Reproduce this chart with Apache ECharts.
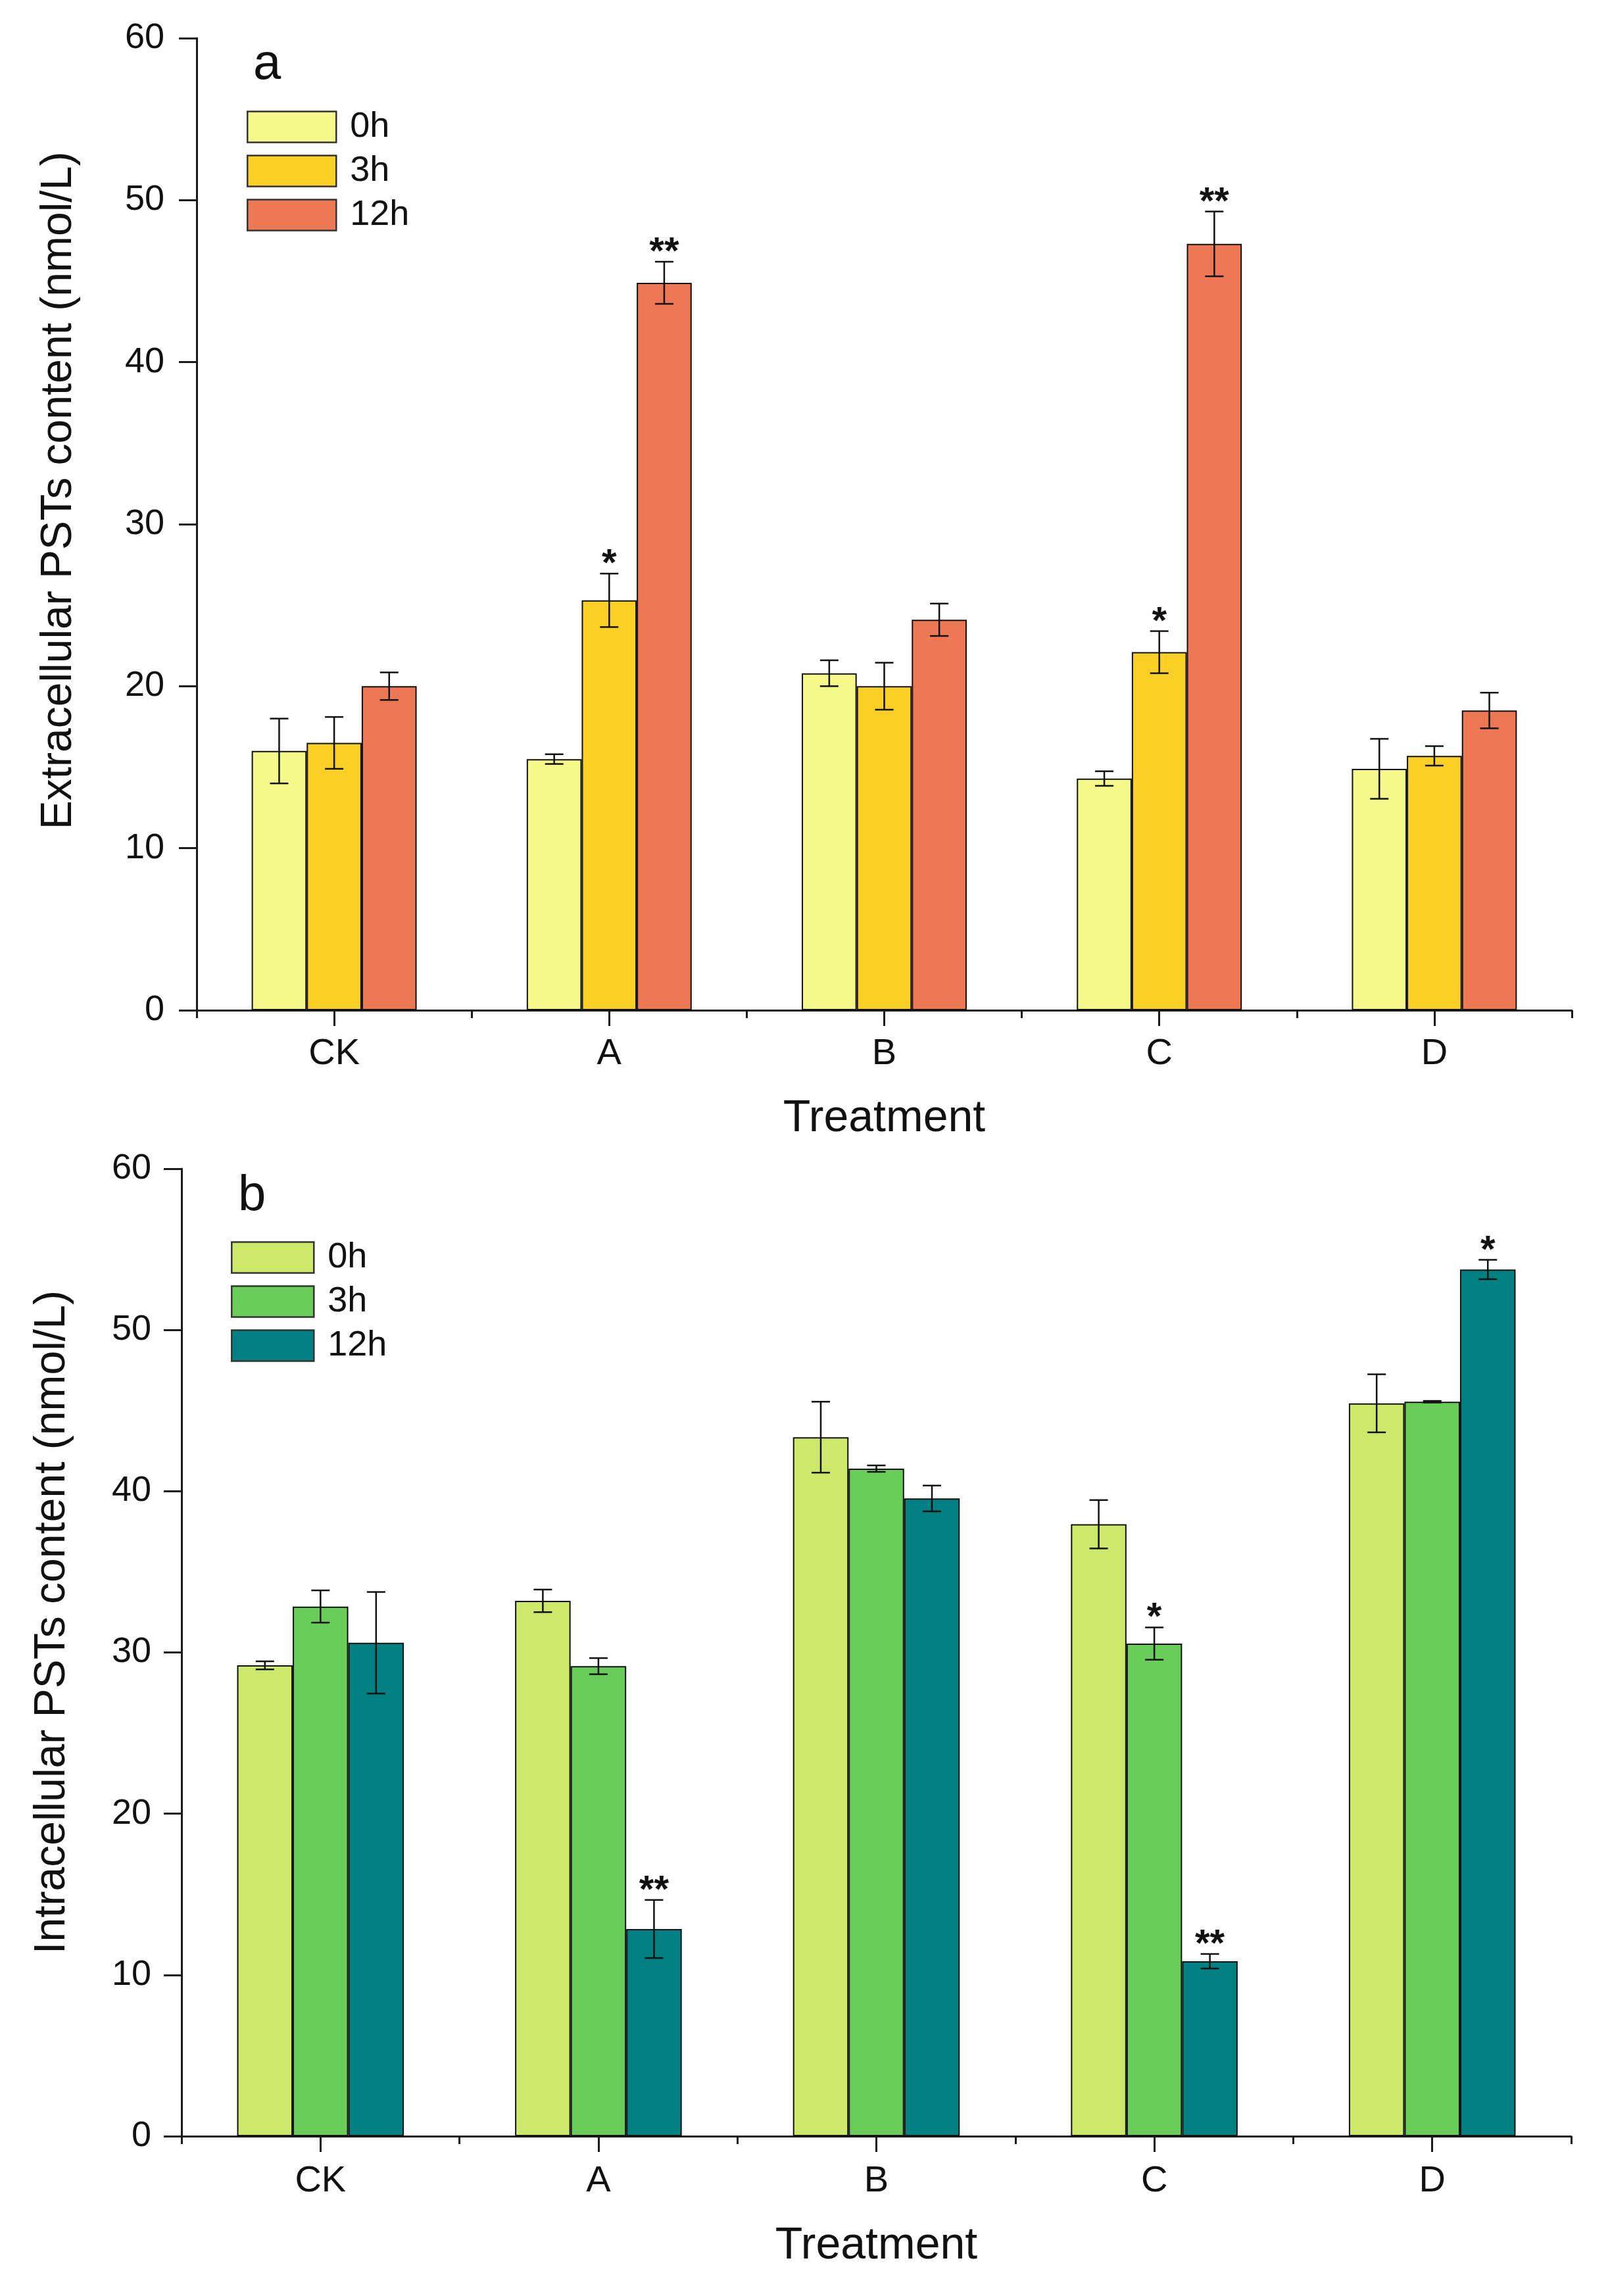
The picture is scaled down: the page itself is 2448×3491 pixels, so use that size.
<!DOCTYPE html>
<html>
<head>
<meta charset="utf-8">
<script src="https://cdn.jsdelivr.net/npm/echarts@6/dist/echarts.min.js"></script>
<style>
  html, body { margin: 0; padding: 0; background: #ffffff; }
  #chart { width: 2448px; height: 3491px; }
</style>
</head>
<body>
<div id="chart"></div>
<script>
// ---------- data ----------
const categories = ['CK', 'A', 'B', 'C', 'D'];
const timeNames = ['0h', '3h', '12h'];

// Panel a: extracellular PSTs (nmol/L)
const ext0h = [16.0, 15.5, 20.8, 14.3, 14.9];
const ext0hErr = [2.0, 0.3, 0.8, 0.45, 1.85];
const ext3h = [16.5, 25.3, 20.0, 22.1, 15.7];
const ext3hErr = [1.6, 1.65, 1.45, 1.3, 0.6];
const ext12h = [20.0, 44.9, 24.1, 47.3, 18.5];
const ext12hErr = [0.85, 1.3, 1.0, 2.0, 1.1];
const extSig0h = ['', '', '', '', ''];
const extSig3h = ['', '*', '', '*', ''];
const extSig12h = ['', '**', '', '**', ''];

// Panel b: intracellular PSTs (nmol/L)
const int0h = [29.2, 33.2, 43.35, 37.95, 45.45];
const int0hErr = [0.25, 0.7, 2.2, 1.5, 1.8];
const int3h = [32.85, 29.15, 41.4, 30.55, 45.55];
const int3hErr = [1.0, 0.5, 0.2, 1.0, 0.05];
const int12h = [30.6, 12.85, 39.55, 10.85, 53.75];
const int12hErr = [3.15, 1.8, 0.8, 0.45, 0.6];
const intSig0h = ['', '', '', '', ''];
const intSig3h = ['', '', '', '*', ''];
const intSig12h = ['', '**', '', '**', '*'];

const yTickMin = 0, yTickMax = 60, yTickStep = 10;

// ---------- styles ----------
const FONT = "'Liberation Sans', Arial, sans-serif";
const extColors = ['#F5FA8B', '#FAD026', '#EC7854'];
const intColors = ['#CCE96B', '#6BCD59', '#008080'];
const AX = '#1a1a1a';

function errSeries(values, errs, sigs, pos, xIdx, yIdx) {
  return {
    type: 'custom',
    xAxisIndex: xIdx,
    yAxisIndex: yIdx,
    z: 10,
    silent: true,
    data: values.map((v, i) => [i, v, errs[i]]),
    encode: { x: 0, y: 1 },
    renderItem: function (params, api) {
      const idx = api.value(0);
      const v = api.value(1);
      const e = api.value(2);
      const c = api.coord([idx, v]);
      const band = api.size([1, 0])[0];
      const bw = band * 0.2;
      const x = c[0] + (pos - 1) * bw;
      const yt = api.coord([idx, v + e])[1];
      const yb = api.coord([idx, v - e])[1];
      const cap = 14;
      const st = { stroke: '#111', lineWidth: 2.5 };
      const children = [
        { type: 'line', shape: { x1: x, y1: yt, x2: x, y2: yb }, style: st },
        { type: 'line', shape: { x1: x - cap, y1: yt, x2: x + cap, y2: yt }, style: st },
        { type: 'line', shape: { x1: x - cap, y1: yb, x2: x + cap, y2: yb }, style: st }
      ];
      const s = sigs[params.dataIndex];
      if (s) {
        children.push({
          type: 'text',
          style: {
            text: s, x: x, y: yt - 13,
            align: 'center', verticalAlign: 'middle',
            fontSize: 58, fontWeight: 'bold', fontFamily: FONT, fill: '#111'
          }
        });
      }
      return { type: 'group', children: children };
    }
  };
}

function barSeries(name, values, color, xIdx, yIdx) {
  return {
    name: name,
    type: 'bar',
    xAxisIndex: xIdx,
    yAxisIndex: yIdx,
    data: values,
    barWidth: '20%',
    barGap: '0%',
    itemStyle: { color: color, borderColor: '#111', borderWidth: 2 },
    emphasis: { disabled: true }
  };
}

function mainX(gridIndex, labelMargin, nameGap) {
  return {
    type: 'category', gridIndex: gridIndex, data: categories, position: 'bottom',
    axisLine: { show: true, lineStyle: { color: AX, width: 3 } },
    axisTick: { show: true, alignWithLabel: true, length: 24, lineStyle: { color: AX, width: 3 } },
    axisLabel: { margin: labelMargin, fontSize: 56, fontFamily: FONT, color: '#111' },
    name: 'Treatment', nameLocation: 'middle', nameGap: nameGap,
    nameTextStyle: { fontSize: 68, fontFamily: FONT, color: '#111' }
  };
}
function minorX(gridIndex) {
  return {
    type: 'category', gridIndex: gridIndex, data: categories, position: 'bottom',
    axisLine: { show: false },
    axisTick: { show: true, alignWithLabel: false, interval: 0, length: 12, lineStyle: { color: AX, width: 3 } },
    axisLabel: { show: false }
  };
}
function valY(gridIndex, title, labelMargin, nameGap, shift) {
  return {
    type: 'value', gridIndex: gridIndex, min: yTickMin, max: yTickMax, interval: yTickStep,
    axisLine: { show: true, lineStyle: { color: AX, width: 3 } },
    axisTick: { show: true, inside: false, length: 27, lineStyle: { color: AX, width: 3 } },
    axisLabel: { margin: labelMargin, fontSize: 54, fontFamily: FONT, color: '#111' },
    splitLine: { show: false },
    name: title, nameLocation: 'middle', nameGap: nameGap,
    nameTextStyle: { fontSize: 66, fontFamily: FONT, color: '#111', padding: [0, 0, 0, shift] }
  };
}

function legendCfg(names, left, top, w) {
  return {
    data: names, orient: 'vertical', left: left, top: top, padding: 0,
    icon: 'rect', itemWidth: w, itemHeight: 47, itemGap: 13,
    selectedMode: false,
    itemStyle: { borderColor: '#333', borderWidth: 2.5 },
    textStyle: { fontSize: 54, fontFamily: FONT, color: '#111', padding: [0, 0, 0, 16] }
  };
}

const option = {
  backgroundColor: '#ffffff',
  animation: false,
  title: [
    { text: 'a', left: 380, top: 56, textStyle: { fontSize: 76, fontWeight: 'normal', fontFamily: FONT, color: '#111' } },
    { text: 'b', left: 357, top: 1776, textStyle: { fontSize: 76, fontWeight: 'normal', fontFamily: FONT, color: '#111' } }
  ],
  legend: [
    legendCfg(timeNames, 375, 166, 135),
    legendCfg(timeNames.map(n => n + ' '), 351, 1885, 125)
  ],
  grid: [
    { left: 299, right: 58, top: 58, height: 1478, containLabel: false },
    { left: 276, right: 59, top: 1777, height: 1471, containLabel: false }
  ],
  xAxis: [mainX(0, 39, 131), minorX(0), mainX(1, 41, 133), minorX(1)],
  yAxis: [
    valY(0, 'Extracellular PSTs content (nmol/L)', 49, 176, 102),
    valY(1, 'Intracellular PSTs content (nmol/L)', 46, 163, 92)
  ],
  series: [
    barSeries('0h', ext0h, extColors[0], 0, 0),
    barSeries('3h', ext3h, extColors[1], 0, 0),
    barSeries('12h', ext12h, extColors[2], 0, 0),
    errSeries(ext0h, ext0hErr, extSig0h, 0, 0, 0),
    errSeries(ext3h, ext3hErr, extSig3h, 1, 0, 0),
    errSeries(ext12h, ext12hErr, extSig12h, 2, 0, 0),
    barSeries('0h ', int0h, intColors[0], 2, 1),
    barSeries('3h ', int3h, intColors[1], 2, 1),
    barSeries('12h ', int12h, intColors[2], 2, 1),
    errSeries(int0h, int0hErr, intSig0h, 0, 2, 1),
    errSeries(int3h, int3hErr, intSig3h, 1, 2, 1),
    errSeries(int12h, int12hErr, intSig12h, 2, 2, 1)
  ]
};

const chart = echarts.init(document.getElementById('chart'), null, { renderer: 'canvas' });
chart.setOption(option);
</script>
</body>
</html>
